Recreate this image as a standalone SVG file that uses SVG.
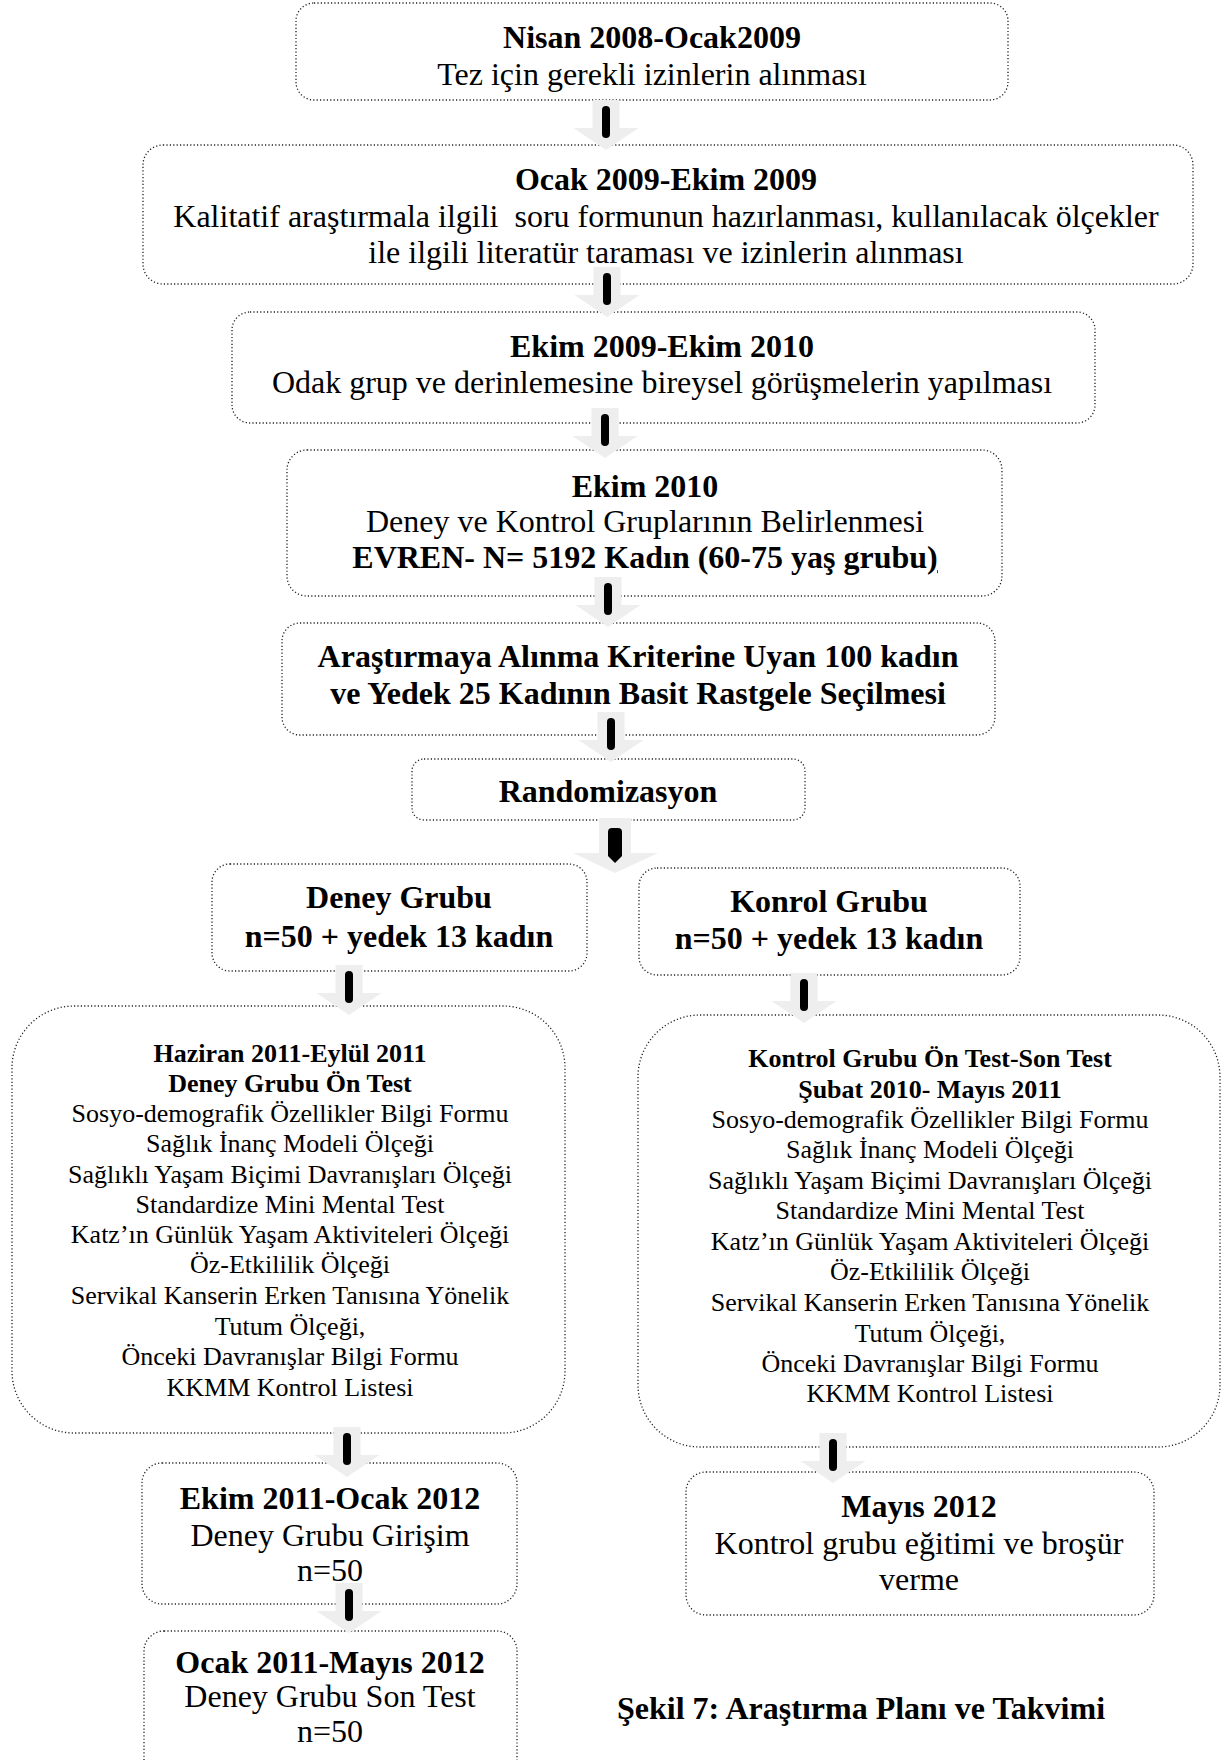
<svg xmlns="http://www.w3.org/2000/svg" xmlns:xlink="http://www.w3.org/1999/xlink" width="1224" height="1760" viewBox="0 0 1224 1760">
<style>
.box{fill:#ffffff;stroke:#222;stroke-width:1.3;stroke-dasharray:1.2 2.2}
text{font-family:"Liberation Serif","Times New Roman",serif;fill:#000;text-anchor:middle}
.t{font-size:32px}
.b{font-weight:bold}
.s{font-size:26px}
</style>
<defs>
<g id="arr">
<path d="M-13.5,-50 H13.5 V-22 H32.5 L0,0 L-32.5,-22 H-13.5 Z" fill="#eeeeee"/>
<rect x="-4" y="-44" width="8" height="32" rx="4" fill="#000"/>
</g>
</defs>
<rect width="1224" height="1760" fill="#fff"/>

<g id="n1">
<rect class="box" x="296" y="3" width="712" height="97" rx="18"/>
<text class="t b" x="652" y="48">Nisan 2008-Ocak2009</text>
<text class="t" x="652" y="85">Tez için gerekli izinlerin alınması</text>
</g>
<g id="n2">
<rect class="box" x="143" y="145" width="1050" height="139" rx="20"/>
<text class="t b" x="666" y="190">Ocak 2009-Ekim 2009</text>
<text class="t" x="666" y="227" xml:space="preserve">Kalitatif araştırmala ilgili  soru formunun hazırlanması, kullanılacak ölçekler</text>
<text class="t" x="666" y="263">ile ilgili literatür taraması ve izinlerin alınması</text>
</g>
<g id="n3">
<rect class="box" x="232" y="312" width="863" height="111" rx="18"/>
<text class="t b" x="662" y="357">Ekim 2009-Ekim 2010</text>
<text class="t" x="662" y="393">Odak grup ve derinlemesine bireysel görüşmelerin yapılması</text>
</g>
<g id="n4">
<rect class="box" x="287" y="450" width="715" height="146" rx="20"/>
<text class="t b" x="645" y="497">Ekim 2010</text>
<text class="t" x="645" y="532">Deney ve Kontrol Gruplarının Belirlenmesi</text>
<text class="t b" x="645" y="568">EVREN- N= 5192 Kadın (60-75 yaş grubu<tspan text-decoration="underline">)</tspan></text>
</g>
<g id="n5">
<rect class="box" x="282" y="623" width="713" height="112" rx="18"/>
<text class="t b" x="638" y="667">Araştırmaya Alınma Kriterine Uyan 100 kadın</text>
<text class="t b" x="638" y="704">ve Yedek 25 Kadının Basit Rastgele Seçilmesi</text>
</g>
<g id="n6">
<rect class="box" x="412" y="759" width="393" height="61" rx="12"/>
<text class="t b" x="608" y="802">Randomizasyon</text>
</g>
<g id="n7">
<rect class="box" x="212" y="864" width="375" height="107" rx="18"/>
<text class="t b" x="399" y="908">Deney Grubu</text>
<text class="t b" x="399" y="947">n=50 + yedek 13 kadın</text>
</g>
<g id="n8">
<rect class="box" x="639" y="868" width="381" height="107" rx="18"/>
<text class="t b" x="829" y="912">Konrol Grubu</text>
<text class="t b" x="829" y="949">n=50 + yedek 13 kadın</text>
</g>
<g id="n9">
<rect class="box" x="12" y="1006" width="553" height="427" rx="62"/>
<text class="s b" x="290" y="1062">Haziran 2011-Eylül 2011</text>
<text class="s b" x="290" y="1092">Deney Grubu Ön Test</text>
<text class="s" x="290" y="1122">Sosyo-demografik Özellikler Bilgi Formu</text>
<text class="s" x="290" y="1152">Sağlık İnanç Modeli Ölçeği</text>
<text class="s" x="290" y="1183">Sağlıklı Yaşam Biçimi Davranışları Ölçeği</text>
<text class="s" x="290" y="1213">Standardize Mini Mental Test</text>
<text class="s" x="290" y="1243">Katz’ın Günlük Yaşam Aktiviteleri Ölçeği</text>
<text class="s" x="290" y="1273">Öz-Etkililik Ölçeği</text>
<text class="s" x="290" y="1304">Servikal Kanserin Erken Tanısına Yönelik</text>
<text class="s" x="290" y="1335">Tutum Ölçeği,</text>
<text class="s" x="290" y="1365">Önceki Davranışlar Bilgi Formu</text>
<text class="s" x="290" y="1396">KKMM Kontrol Listesi</text>
</g>
<g id="n10">
<rect class="box" x="638" y="1015" width="582" height="432" rx="62"/>
<text class="s b" x="930" y="1067">Kontrol Grubu Ön Test-Son Test</text>
<text class="s b" x="930" y="1098">Şubat 2010- Mayıs 2011</text>
<text class="s" x="930" y="1128">Sosyo-demografik Özellikler Bilgi Formu</text>
<text class="s" x="930" y="1158">Sağlık İnanç Modeli Ölçeği</text>
<text class="s" x="930" y="1189">Sağlıklı Yaşam Biçimi Davranışları Ölçeği</text>
<text class="s" x="930" y="1219">Standardize Mini Mental Test</text>
<text class="s" x="930" y="1250">Katz’ın Günlük Yaşam Aktiviteleri Ölçeği</text>
<text class="s" x="930" y="1280">Öz-Etkililik Ölçeği</text>
<text class="s" x="930" y="1311">Servikal Kanserin Erken Tanısına Yönelik</text>
<text class="s" x="930" y="1342">Tutum Ölçeği,</text>
<text class="s" x="930" y="1372">Önceki Davranışlar Bilgi Formu</text>
<text class="s" x="930" y="1402">KKMM Kontrol Listesi</text>
</g>
<g id="n11">
<rect class="box" x="142" y="1463" width="375" height="141" rx="20"/>
<text class="t b" x="330" y="1509">Ekim 2011-Ocak 2012</text>
<text class="t" x="330" y="1546">Deney Grubu Girişim</text>
<text class="t" x="330" y="1581">n=50</text>
</g>
<g id="n12">
<rect class="box" x="144" y="1631" width="373" height="150" rx="20"/>
<text class="t b" x="330" y="1673">Ocak 2011-Mayıs 2012</text>
<text class="t" x="330" y="1707">Deney Grubu Son Test</text>
<text class="t" x="330" y="1742">n=50</text>
</g>
<g id="n13">
<rect class="box" x="686" y="1472" width="468" height="143" rx="20"/>
<text class="t b" x="919" y="1517">Mayıs 2012</text>
<text class="t" x="919" y="1554">Kontrol grubu eğitimi ve broşür</text>
<text class="t" x="919" y="1590">verme</text>
</g>
<g id="caption">
<text class="t b" x="861" y="1719">Şekil 7: Araştırma Planı ve Takvimi</text>
</g>

<g id="connectors">
<use xlink:href="#arr" x="606" y="150"/>
<use xlink:href="#arr" x="607" y="317"/>
<use xlink:href="#arr" x="605" y="458"/>
<use xlink:href="#arr" x="608" y="627"/>
<use xlink:href="#arr" x="611" y="762"/>
<path d="M599,818 H631 V853 H658 L615,873 L573,853 H599 Z" fill="#eeeeee"/>
<path d="M608,832 Q608,828 612,828 H618 Q622,828 622,832 V856 L615,863 L608,856 Z" fill="#000"/>
<use xlink:href="#arr" x="349" y="1015"/>
<use xlink:href="#arr" x="804" y="1023"/>
<use xlink:href="#arr" x="347" y="1477"/>
<use xlink:href="#arr" x="349" y="1633"/>
<use xlink:href="#arr" x="833" y="1483"/>
</g>
</svg>
